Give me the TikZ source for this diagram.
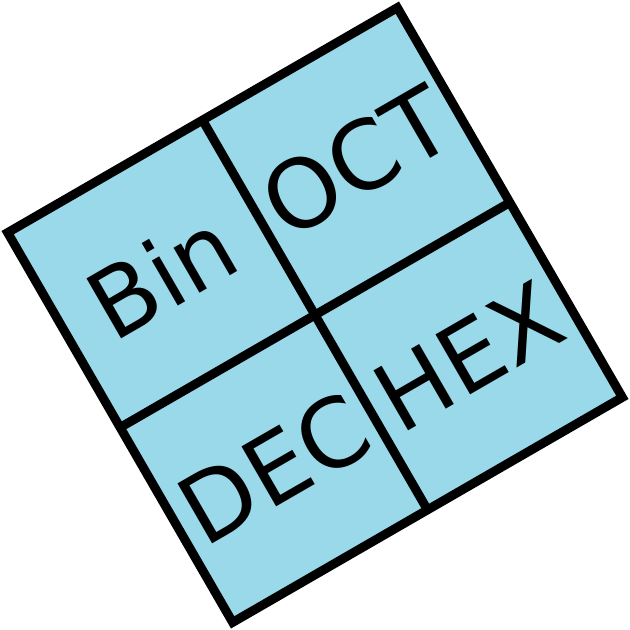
\documentclass[tikz,border=0pt]{standalone}
\usepackage{fontspec}
\setmainfont{DejaVu Sans}
\definecolor{cellblue}{RGB}{153,217,234}
\tikzset{
  cellfill/.style={fill=cellblue},
  gridline/.style={draw=black, line width=9pt, line join=miter},
  label/.style={font=\fontsize{95}{114}\selectfont, inner sep=0pt, transform shape}
}
\begin{document}
\begin{tikzpicture}[x=1pt,y=1pt]
\useasboundingbox (0,0) rectangle (630,630);
\begin{scope}[shift={(315,315)}, rotate=30]
  \coordinate (tl) at (-225,225);
  \coordinate (tr) at (225,225);
  \coordinate (br) at (225,-225);
  \coordinate (bl) at (-225,-225);
  \coordinate (tm) at (0,225);
  \coordinate (bm) at (0,-225);
  \coordinate (lm) at (-225,0);
  \coordinate (rm) at (225,0);
  \fill[cellfill] (tl) -- (tr) -- (br) -- (bl) -- cycle;
  \draw[gridline] (tm) -- (bm);
  \draw[gridline] (lm) -- (rm);
  \draw[gridline] (tl) -- (tr) -- (br) -- (bl) -- cycle;
  \node[label] (bin) at (-112.5,112.5) {Bin};
  \node[label] (oct) at (112.5,112.5) {OCT};
  \node[label] (dec) at (-112.5,-112.5) {DEC};
  \node[label] (hex) at (112.5,-112.5) {HEX};
\end{scope}
\end{tikzpicture}
\end{document}
